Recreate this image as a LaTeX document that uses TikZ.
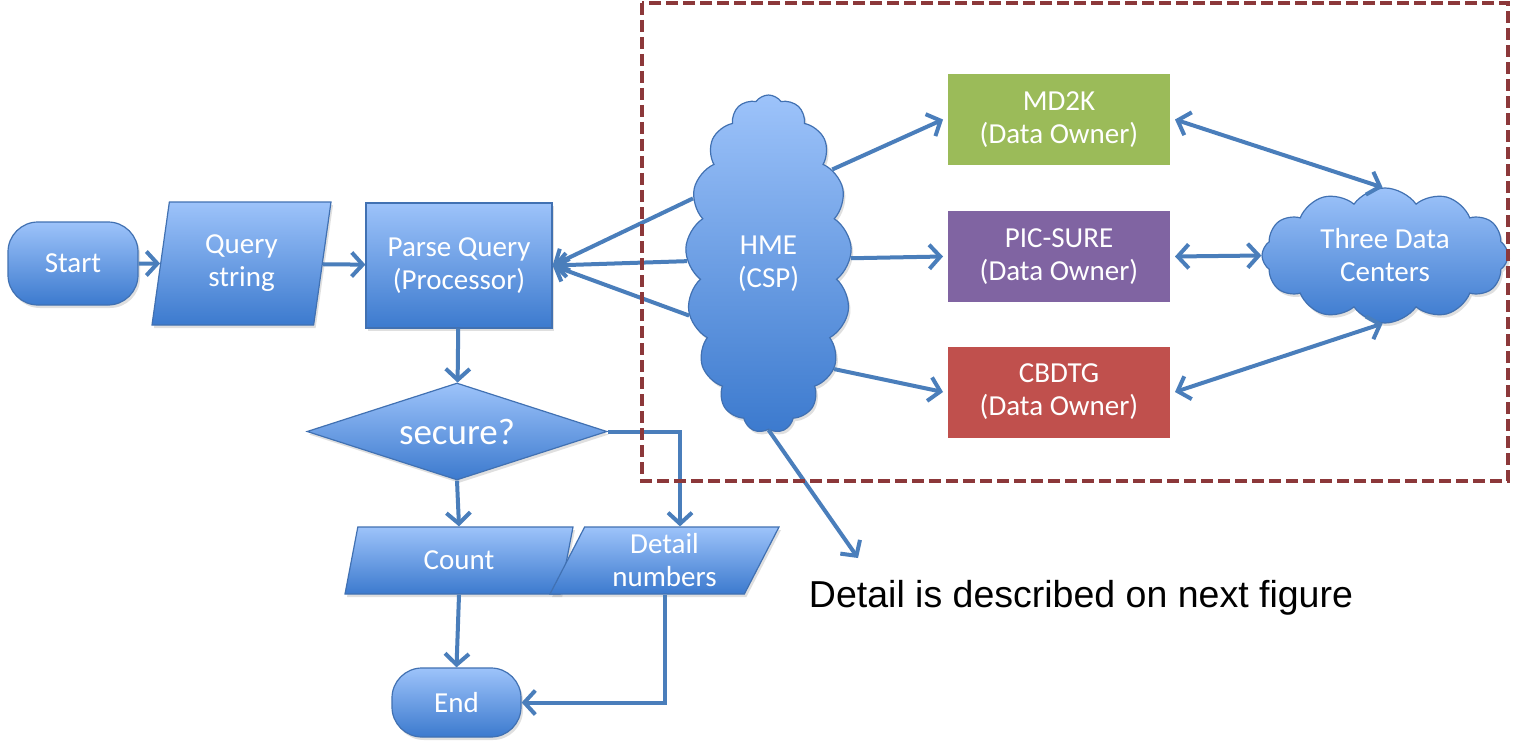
\documentclass[tikz,border=0pt]{standalone}
\usepackage{fontspec}
\setmainfont{Carlito}
\newfontfamily\capfont{Liberation Sans}
\usetikzlibrary{shapes.geometric,shapes.symbols,arrows.meta,shadows,calc}
\definecolor{lineblue}{RGB}{74,126,187}
\definecolor{edgeblue}{RGB}{65,113,178}
\definecolor{topblue}{RGB}{157,195,250}
\definecolor{botblue}{RGB}{60,122,206}
\definecolor{mdgreen}{RGB}{155,187,89}
\definecolor{picpurple}{RGB}{128,100,162}
\definecolor{cbred}{RGB}{192,80,77}
\definecolor{dashred}{RGB}{140,56,58}
\begin{document}
\begin{tikzpicture}[x=1pt,y=-1pt,
  blueshape/.style={draw=edgeblue, line width=1.2pt, top color=topblue, bottom color=botblue,
    text=white, font=\fontsize{29}{33}\selectfont, align=center, inner sep=0pt,
    drop shadow={opacity=0.25, shadow xshift=2pt, shadow yshift=-3pt}},
  terminal/.style={blueshape, rectangle, rounded corners=30pt},
  procbox/.style={blueshape, rectangle},
  iobox/.style={blueshape, trapezium, trapezium stretches body},
  decision/.style={blueshape, diamond, aspect=3, font=\fontsize{37}{42}\selectfont},
  cloudshape/.style={blueshape, cloud, cloud ignores aspect},
  ownerbox/.style={rectangle, draw=white, line width=5pt, text=white,
    font=\fontsize{29}{33}\selectfont, align=center, inner sep=0pt,
    minimum width=227pt, minimum height=96pt,
    drop shadow={opacity=0.3, shadow xshift=1.5pt, shadow yshift=-2pt}},
  tip/.tip={Straight Barb[length=11pt,width=24pt]},
  arr/.style={draw=lineblue, line width=4pt, -tip},
  darr/.style={draw=lineblue, line width=4pt, tip-tip},
  dashbox/.style={draw=dashred, line width=3.5pt, dash pattern=on 12pt off 5pt}
]
\useasboundingbox[fill=white] (0,0) rectangle (1516,749);

% left flowchart
\node[terminal, minimum width=130pt, minimum height=83pt] (start) at (73,263.5) {Start};
\node[iobox, trapezium left angle=73, trapezium right angle=107,
      minimum width=179pt, minimum height=123pt] (qs) at (241.5,263.5) {Query\\string};
\node[procbox, minimum width=186pt, minimum height=125pt] (parse) at (459,265.5) {Parse Query\\(Processor)};
\node[decision, minimum width=300pt, minimum height=97pt] (sec) at (457,431.5) {secure?};
\node[iobox, trapezium left angle=56, trapezium right angle=124,
      minimum width=228pt, minimum height=67pt] (cnt) at (459,560.5) {Count};
\node[iobox, trapezium left angle=57, trapezium right angle=123,
      minimum width=229pt, minimum height=67pt] (det) at (664.5,560.5) {Detail\\numbers};
\node[terminal, minimum width=129pt, minimum height=69pt] (end) at (456.5,702.5) {End};

% right part
\node[cloudshape, cloud puffs=17, cloud puff arc=110, minimum width=166pt, minimum height=338pt] (hme) at (768.5,264) {HME\\(CSP)};
\node[ownerbox, fill=mdgreen] (md) at (1059,119.5) {MD2K\\(Data Owner)};
\node[ownerbox, fill=picpurple] (pic) at (1059,256.5) {PIC-SURE\\(Data Owner)};
\node[ownerbox, fill=cbred] (cb) at (1059,392) {CBDTG\\(Data Owner)};
\node[cloudshape, cloud puffs=12, cloud puff arc=110, minimum width=246pt, minimum height=135pt] (tdc) at (1385,255.5) {Three Data\\Centers};
\node[font=\capfont\fontsize{37.5}{44}\selectfont, anchor=base, inner sep=0pt] (cap) at (1081,607) {Detail is described on next figure};
\coordinate (dtl) at (858,558);

% connectors
\draw[arr] (start) -- (qs);
\draw[arr] (qs) -- (parse);
\draw[arr] (parse) -- (sec);
\draw[arr] (sec.south) -- (cnt.north);
\draw[arr] (sec.east) -| ($(det.north)+(15.5,0)$);
\draw[arr] (cnt.south) -- (end.north);
\draw[arr] (det.south) |- (end.east);
\draw[arr] (hme.139) -- (parse.east);
\draw[arr] (hme.178) -- (parse.east);
\draw[arr] (hme.213) -- (parse.east);
\draw[arr] (hme.270) -- (dtl);
\draw[arr] (hme.56) -- (md.west);
\draw[arr] (hme.4) -- (pic.west);
\draw[arr] (hme.302) -- (cb.west);
\draw[darr] (md.east) -- (tdc.92);
\draw[darr] (pic.east) -- (tdc.west);
\draw[darr] (cb.east) -- (tdc.268);

% dashed region
\draw[dashbox] (642,3) rectangle (1508,481);
\end{tikzpicture}
\end{document}
